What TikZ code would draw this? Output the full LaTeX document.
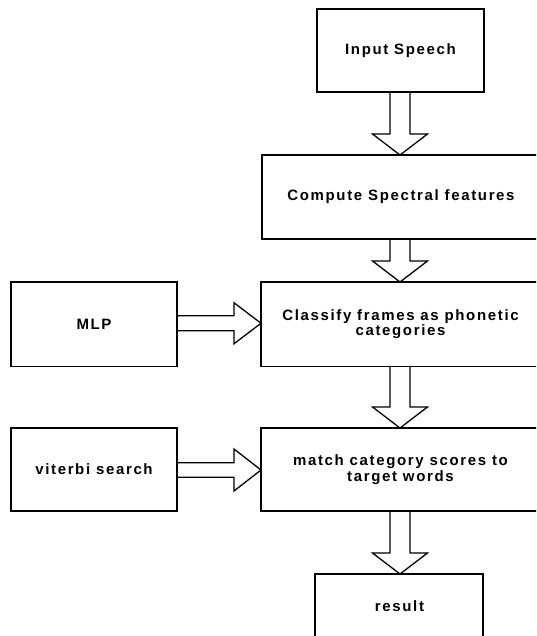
\documentclass[tikz,border=0pt]{standalone}
\usepackage{fontspec}
\setmainfont{Liberation Sans}[LetterSpace=11]
\usetikzlibrary{calc}
\tikzset{
  box/.style={draw, line width=1.3pt, rectangle, inner sep=0pt, outer sep=0pt, align=center,
    font=\fontsize{15}{15.5}\selectfont\bfseries},
  blockarrow/.style={draw, line width=1.3pt, line join=miter}
}
\begin{document}
\begin{tikzpicture}[x=1pt,y=-1pt]
\clip (0,0) rectangle (536,636);
\fill[white] (0,0) rectangle (536,636);
% boxes
\node[box, minimum width=167pt, minimum height=83pt] (in) at (400.5,50.5) {Input Speech};
\node[box, minimum width=278pt, minimum height=84pt] (comp) at (401,197) {Compute Spectral features};
\node[box, minimum width=279pt, minimum height=84.5pt] (cls) at (400.5,324.25) {Classify frames as phonetic\\categories};
\node[box, minimum width=166pt, minimum height=84.5pt] (mlp) at (94,324.25) {MLP};
\node[box, minimum width=279pt, minimum height=83pt] (match) at (400.5,469.5) {match category scores to\\target words};
\node[box, minimum width=166pt, minimum height=83pt] (vit) at (94,469.5) {viterbi search};
\node[box, minimum width=168pt, minimum height=100pt, anchor=north] (res) at (399,574) {};
\node[font=\fontsize{15}{15.5}\selectfont\bfseries, inner sep=0pt] (restxt) at (399.5,606) {result};
% vertical block arrows
\foreach \a/\b in {in/comp, comp/cls, cls/match, match/res}{
  \draw[blockarrow]
    ($(\a.south -| 400,0)+(-10,0)$) -- ($(\b.north -| 400,0)+(-10,-21)$)
    -- ($(\b.north -| 400,0)+(-27.5,-21)$) -- (\b.north -| 400,0)
    -- ($(\b.north -| 400,0)+(27.5,-21)$) -- ($(\b.north -| 400,0)+(10,-21)$)
    -- ($(\a.south -| 400,0)+(10,0)$);
}
% horizontal block arrows
\coordinate (m1) at ($(mlp.east)+(0,-1)$);
\coordinate (m2) at (cls.west |- m1);
\draw[blockarrow]
  ($(m1)+(0,-7.5)$) -- ($(m2)+(-27,-7.5)$) -- ($(m2)+(-27,-20.5)$) -- (m2)
  -- ($(m2)+(-27,20.5)$) -- ($(m2)+(-27,7.5)$) -- ($(m1)+(0,7.5)$);
\coordinate (v1) at ($(vit.east)+(0,0.5)$);
\coordinate (v2) at (match.west |- v1);
\draw[blockarrow]
  ($(v1)+(0,-7.3)$) -- ($(v2)+(-27,-7.3)$) -- ($(v2)+(-27,-21)$) -- (v2)
  -- ($(v2)+(-27,21)$) -- ($(v2)+(-27,7.3)$) -- ($(v1)+(0,7.3)$);
\end{tikzpicture}
\end{document}
